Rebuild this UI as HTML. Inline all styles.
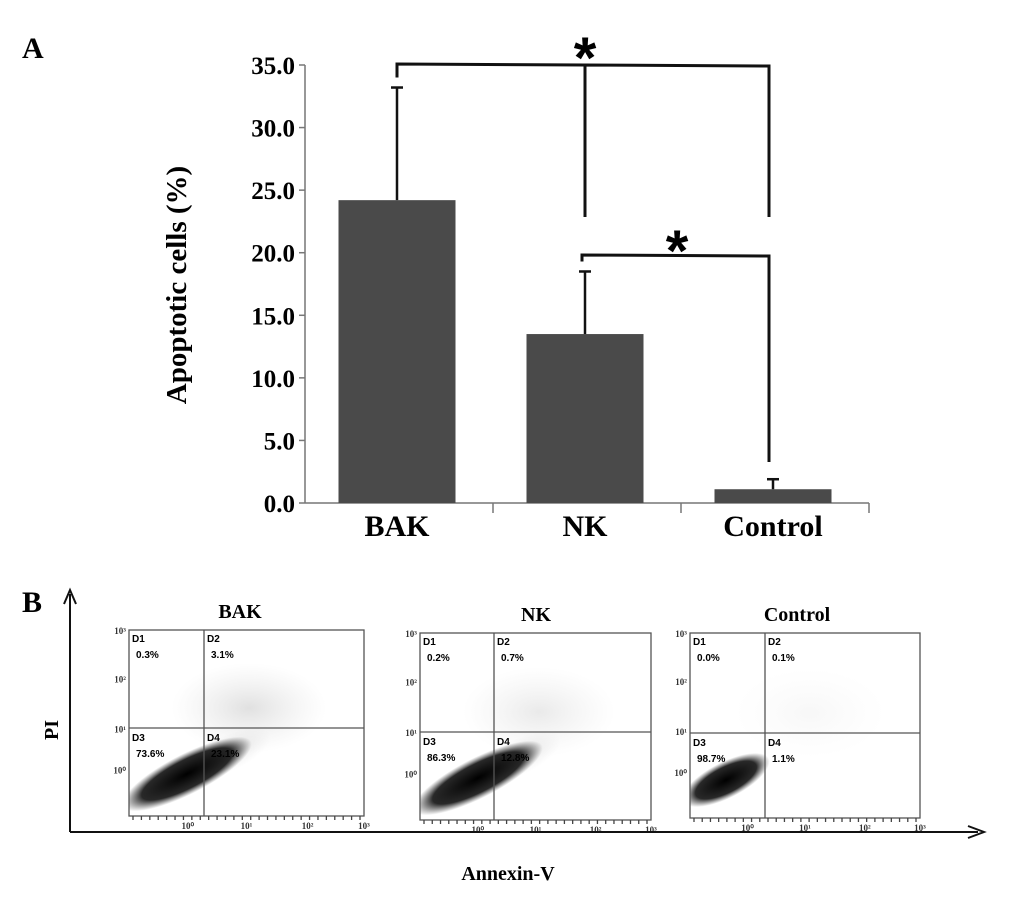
<!DOCTYPE html>
<html><head><meta charset="utf-8"><style>
html,body{margin:0;padding:0;background:#fff;}
svg{display:block;font-family:"Liberation Serif",serif;}
.fl{font-family:"Liberation Sans",sans-serif;font-weight:bold;font-size:10px;}
</style></head><body>
<svg id="fig" width="1033" height="900" viewBox="0 0 1033 900" xmlns="http://www.w3.org/2000/svg">
<defs>
<radialGradient id="blob"><stop offset="0" stop-color="#000" stop-opacity="1"/><stop offset="0.7" stop-color="#111" stop-opacity="0.9"/><stop offset="1" stop-color="#444" stop-opacity="0"/></radialGradient>
<radialGradient id="haze"><stop offset="0" stop-color="#999" stop-opacity="0.3"/><stop offset="1" stop-color="#bbb" stop-opacity="0"/></radialGradient>
</defs>
<text x="22" y="58" font-size="30" font-weight="bold">A</text>
<text x="22" y="612" font-size="30" font-weight="bold">B</text>
<g id="chart"></g>
<g id="flow"></g>
</svg>
<script>
const categories = ["BAK", "NK", "Control"];
const means = [24.2, 13.5, 1.1];
const errors = [9.0, 5.0, 0.8];
const yTicks = [0, 5, 10, 15, 20, 25, 30, 35];
const yTickLabels = ["0.0","5.0","10.0","15.0","20.0","25.0","30.0","35.0"];

const NS = "http://www.w3.org/2000/svg";
function mk(tag, attrs, parent, text){
  const e = document.createElementNS(NS, tag);
  for (const k in attrs) e.setAttribute(k, attrs[k]);
  if (text !== undefined) e.textContent = text;
  parent.appendChild(e);
  return e;
}
const g = document.getElementById("chart");
const x0 = 305, slotW = 188, y0 = 503, pxPerUnit = (503 - 65) / 35;
const yScale = v => y0 - v * pxPerUnit;
const xCenter = i => x0 + slotW * i + 92;
const barW = 117;

let ax = mk("line", {x1:x0, y1:yScale(35), x2:x0, y2:y0, stroke:"#777", "stroke-width":1.5}, g);


yTicks.forEach((t, i) => {
  const y = yScale(t);
  const tk = mk("line", {x1:x0-6, y1:y, x2:x0, y2:y, stroke:"#777", "stroke-width":1.5}, g);
  
  
  const lb = mk("text", {x:x0-10, y:y+9, "text-anchor":"end", "font-size":25, "font-weight":"bold"}, g, yTickLabels[i]);
  
  
});
let xa = mk("line", {x1:x0, y1:y0, x2:x0 + slotW*3, y2:y0, stroke:"#777", "stroke-width":1.5}, g);


for (let i = 1; i <= 3; i++) {
  const sx = x0 + slotW * i;
  const s = mk("line", {x1:sx, y1:y0, x2:sx, y2:y0+10, stroke:"#777", "stroke-width":1.5}, g);
  
  
}
let yt = mk("text", {x:0, y:0, transform:"translate(186,285) rotate(-90)", "text-anchor":"middle", "font-size":29, "font-weight":"bold"}, g, "Apoptotic cells (%)");



categories.forEach((c, i) => {
  const cx = xCenter(i);
  const top = yScale(means[i]);
  const b = mk("rect", {x:cx - barW/2, y:top, width:barW, height:y0 - top, fill:"#4a4a4a"}, g);
  
  
  const et = yScale(means[i] + errors[i]);
  const e1 = mk("line", {x1:cx, y1:top, x2:cx, y2:et, stroke:"#111", "stroke-width":2.5}, g);
  
  
  const e2 = mk("line", {x1:cx-6, y1:et, x2:cx+6, y2:et, stroke:"#111", "stroke-width":2.5}, g);
  
  
  const l = mk("text", {x:cx, y:536, "text-anchor":"middle", "font-size":30, "font-weight":"bold"}, g, c);
  
  
});

const bx = [xCenter(0), xCenter(1), xCenter(2)-4];
const by1 = yScale(35) - 1;
const p1 = mk("path", {d:`M${bx[0]},${yScale(means[0]+errors[0])-10} L${bx[0]},${by1} L${bx[2]},${by1+2} L${bx[2]},217 M${bx[1]},${by1} L${bx[1]},217`, fill:"none", stroke:"#111", "stroke-width":3}, g);


const s1 = mk("text", {x:bx[1], y:by1+14, "text-anchor":"middle", "font-size":58, "font-weight":"bold", "font-family":"Liberation Sans"}, g, "*");


const by2 = 255;
const p2 = mk("path", {d:`M${bx[1]-3},${yScale(means[1]+errors[1])-10} L${bx[1]-3},${by2} L${bx[2]},${by2+1} L${bx[2]},462`, fill:"none", stroke:"#111", "stroke-width":3}, g);


const s2 = mk("text", {x:(bx[1]+bx[2])/2, y:by2+16, "text-anchor":"middle", "font-size":58, "font-weight":"bold", "font-family":"Liberation Sans"}, g, "*");



// flow panels
const fg = document.getElementById("flow");
const defs = document.querySelector("defs");
const flowNames = ["BAK","NK","Control"];
const flowQ = [["0.3%","3.1%","73.6%","23.1%"],["0.2%","0.7%","86.3%","12.8%"],["0.0%","0.1%","98.7%","1.1%"]];
const boxes = [[129,630,364,816,204,728],[420,633,651,820,494,732],[690,633,920,818,765,733]];
const titleX = [240, 536, 797];
boxes.forEach((bb, i) => {
  const [l,t,r,b,dx,dy] = bb;
  const cp = mk("clipPath", {id:"clip"+i}, defs);
  mk("rect", {x:l, y:t, width:r-l, height:b-t}, cp);
  const p = mk("g", {}, fg);
  
  
  const cl = mk("g", {"clip-path":`url(#clip${i})`}, p);
  mk("ellipse", {cx:dx+45, cy:dy-20, rx:(r-l)*0.33, ry:45, fill:"url(#haze)", opacity: i===0?1:(i===1?0.7:0.25)}, cl);
  if (i < 2) mk("ellipse", {cx:dx+25, cy:dy+25, rx:45, ry:18, transform:`rotate(-25 ${dx+25} ${dy+25})`, fill:"url(#haze)"}, cl);
  const cx = i===2 ? l+36 : l+58, cy = i===2 ? b-38 : b-42, rx = i===2 ? 48 : 72;
  mk("ellipse", {cx:cx, cy:cy, rx:rx, ry:i===2?18:20, transform:`rotate(-27 ${cx} ${cy})`, fill:"url(#blob)"}, cl);
  mk("rect", {x:l, y:t, width:r-l, height:b-t, fill:"none", stroke:"#555", "stroke-width":1.3}, p);
  mk("line", {x1:dx, y1:t, x2:dx, y2:b, stroke:"#555", "stroke-width":1.3}, p);
  mk("line", {x1:l, y1:dy, x2:r, y2:dy, stroke:"#555", "stroke-width":1.3}, p);
  const tt = mk("text", {x:titleX[i], y:t-12, "text-anchor":"middle", "font-size":20, "font-weight":"bold"}, p, flowNames[i]);
  
  
  const q = flowQ[i];
  [["D1",l+3,t+12],["D2",dx+3,t+12],["D3",l+3,dy+13],["D4",dx+3,dy+13]].forEach((d, k) => {
    mk("text", {x:d[1], y:d[2], class:"fl"}, p, d[0]);
    const v = mk("text", {x:d[1]+4, y:d[2]+16, class:"fl"}, p, q[k]);
    
    
  });
  [0,0.26,0.53,0.75].forEach((f, k) => {
    mk("text", {x:l-3, y:t+4+(b-t)*f, "text-anchor":"end", "font-size":9, "font-weight":"bold", fill:"#333"}, p, ["10³","10²","10¹","10⁰"][k]);
  });
  [0.25,0.5,0.76,1.0].forEach((f, k) => {
    mk("text", {x:l+(r-l)*f, y:b+13, "text-anchor":"middle", "font-size":9, "font-weight":"bold", fill:"#333"}, p, ["10⁰","10¹","10²","10³"][k]);
  });
  for (let k = 0; k < 28; k++) mk("line", {x1:l+4+k*(r-l-8)/27, y1:b, x2:l+4+k*(r-l-8)/27, y2:b+4, stroke:"#444", "stroke-width":1.3}, p);
});
const axB = mk("path", {d:"M70,832 L70,594 M64,604 L70,590 L76,604 M70,832 L978,832 M968,826 L984,832 L968,838", fill:"none", stroke:"#111", "stroke-width":2}, fg);


const pi = mk("text", {x:0, y:0, transform:"translate(58,730) rotate(-90)", "text-anchor":"middle", "font-size":20, "font-weight":"bold"}, fg, "PI");


const an = mk("text", {x:508, y:880, "text-anchor":"middle", "font-size":20, "font-weight":"bold"}, fg, "Annexin-V");


</script>
</body></html>
